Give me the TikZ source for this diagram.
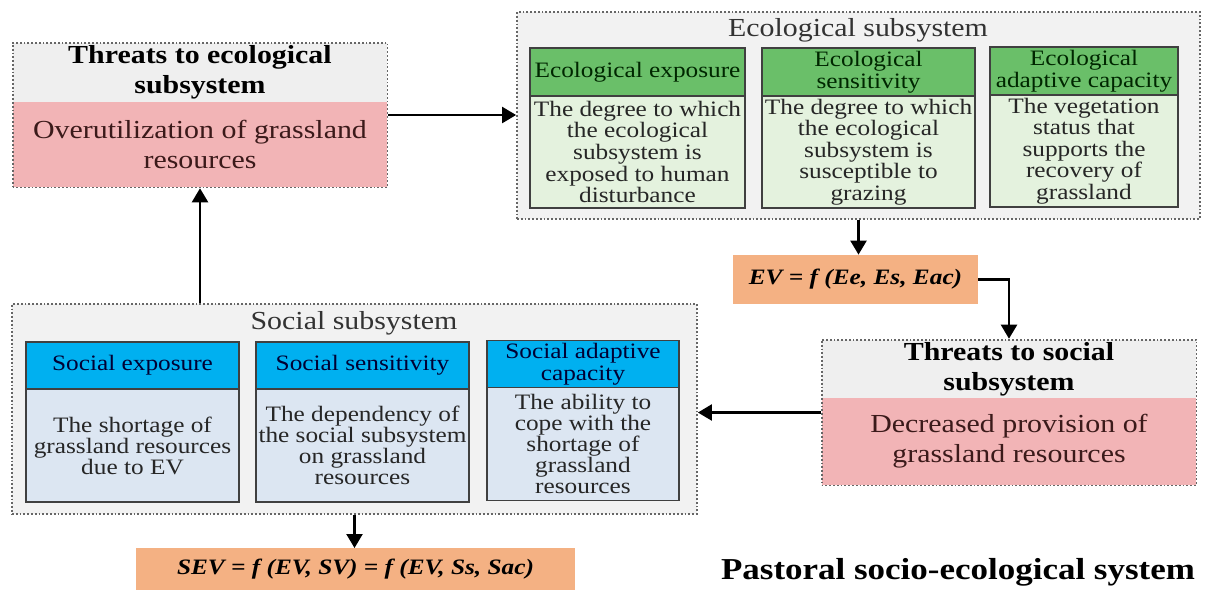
\documentclass[tikz,border=0pt]{standalone}
\usepackage{fontspec}
\setmainfont{Liberation Serif}[FakeStretch=1.15]
\usetikzlibrary{arrows.meta,fit}

\definecolor{framefill}{HTML}{F2F2F2}
\definecolor{topgray}{HTML}{EFEFEF}
\definecolor{threatpink}{HTML}{F2B4B6}
\definecolor{pinktext}{HTML}{3B1A1A}
\definecolor{ecogreen}{HTML}{6ABF69}
\definecolor{ecolight}{HTML}{E4F2DE}
\definecolor{socblue}{HTML}{00B0F0}
\definecolor{soclight}{HTML}{DCE6F2}
\definecolor{formorange}{HTML}{F4B183}

\tikzset{
  outerbox/.style={draw=black!60, densely dotted, line width=0.9pt, fill=framefill, inner sep=0pt},
  dotframe/.style={draw=black!60, densely dotted, line width=0.9pt, inner sep=0pt},
  subtitle/.style={font=\fontsize{13}{15}\selectfont, text=black!80},
  threattop/.style={fill=topgray, minimum width=187pt, inner sep=1pt, align=center,
    font=\bfseries\fontsize{13}{15}\selectfont},
  threatbot/.style={fill=threatpink, minimum width=187pt, inner sep=1pt, align=center,
    text=pinktext, font=\fontsize{13}{15}\selectfont},
  ecohead/.style={draw=black!75, line width=0.7pt, fill=ecogreen, minimum height=24pt,
    inner sep=0.5pt, align=center, text=black!85!green, font=\fontsize{11}{11}\selectfont},
  ecobody/.style={draw=black!75, line width=0.7pt, fill=ecolight, minimum height=56pt,
    inner sep=0.5pt, align=center, text=black!85, font=\fontsize{11}{10.8}\selectfont},
  sochead/.style={draw=black!75, line width=0.7pt, fill=socblue, minimum height=23.5pt,
    inner sep=0.5pt, align=center, text=black!80!blue, font=\fontsize{11}{11}\selectfont},
  socbody/.style={draw=black!75, line width=0.7pt, fill=soclight, minimum height=56.5pt,
    inner sep=0.5pt, align=center, text=black!85, font=\fontsize{11}{10.5}\selectfont},
  formula/.style={fill=formorange, inner sep=0pt, font=\bfseries\itshape\fontsize{11}{13}\selectfont},
  link/.style={->, line width=1.2pt}
}

\begin{document}
\begin{tikzpicture}[x=0.5pt, y=-0.5pt, >={Triangle[width=8pt,length=7pt]}]
    \useasboundingbox (0,0) rectangle (1210,590);

    % Threats to ecological subsystem
    \node[threattop, minimum height=29.5pt] (thrEcoT) at (200,72.5) {Threats to ecological\\subsystem};
    \node[threatbot, minimum height=42.5pt] (thrEcoB) at (200,144.5) {Overutilization of grassland\\resources};
    \node[dotframe, fit=(thrEcoT)(thrEcoB)] (thrEco) {};

    % Ecological subsystem
    \node[outerbox, minimum width=341.5pt, minimum height=103.5pt] (eco) at (858.5,115.5) {};
    \node[subtitle] (ecoTitle) at (858,30) {Ecological subsystem};
    \node[ecohead, minimum width=107.5pt] (eExpH) at (637.5,72) {Ecological exposure};
    \node[ecobody, minimum width=107.5pt] (eExpB) at (637.5,152)
        {The degree to which\\the ecological\\subsystem is\\exposed to human\\disturbance};
    \node[ecohead, minimum width=106.5pt] (eSenH) at (868.5,72) {Ecological\\sensitivity};
    \node[ecobody, minimum width=106.5pt] (eSenB) at (868.5,152)
        {The degree to which\\the ecological\\subsystem is\\susceptible to\\grazing};
    \node[ecohead, minimum width=94pt] (eAdaH) at (1084,71) {Ecological\\adaptive capacity};
    \node[ecobody, minimum width=94pt] (eAdaB) at (1084,151)
        {The vegetation\\status that\\supports the\\recovery of\\grassland};

    % Ecological vulnerability
    \node[formula, minimum width=122.5pt, minimum height=24.5pt] (ev) at (855.5,279.5)
        {EV = f (Ee, Es, Eac)};

    % Threats to social subsystem
    \node[threattop, minimum height=29pt] (thrSocT) at (1009,369) {Threats to social\\subsystem};
    \node[threatbot, minimum height=43.5pt] (thrSocB) at (1009,441.5) {Decreased provision of\\grassland resources};
    \node[dotframe, fit=(thrSocT)(thrSocB)] (thrSoc) {};

    % Social subsystem
    \node[outerbox, minimum width=342.5pt, minimum height=105pt] (soc) at (354.5,409) {};
    \node[subtitle] (socTitle) at (354,323) {Social subsystem};
    \node[sochead, minimum width=106.5pt] (sExpH) at (132.5,365.5) {Social exposure};
    \node[socbody, minimum width=106.5pt] (sExpB) at (132.5,445.5)
        {The shortage of\\grassland resources\\due to EV};
    \node[sochead, minimum width=106.5pt] (sSenH) at (362.5,365.5) {Social sensitivity};
    \node[socbody, minimum width=106.5pt] (sSenB) at (362.5,445.5)
        {The dependency of\\the social subsystem\\on grassland\\resources};
    \node[sochead, minimum width=96pt] (sAdaH) at (583,364) {Social adaptive\\capacity};
    \node[socbody, minimum width=96pt] (sAdaB) at (583,444)
        {The ability to\\cope with the\\shortage of\\grassland\\resources};

    % Socio-ecological vulnerability
    \node[formula, minimum width=219.5pt, minimum height=21pt, anchor=north] (sev) at (355.5,548)
        {SEV = f (EV, SV) = f (EV, Ss, Sac)};
    \node[font=\bfseries\fontsize{15.2}{18}\selectfont] (pses) at (958,572)
        {Pastoral socio-ecological system};

    % Connectors
    \draw[link] (thrEco.east) -- (thrEco.east -| eco.west);
    \draw[link] (eco.south) -- (eco.south |- ev.north);
    \draw[link] (ev.east) -| (thrSoc.north);
    \draw[link] (thrSoc.west) -- (thrSoc.west -| soc.east);
    \draw[link] (soc.north -| thrEco.south) -- (thrEco.south);
    \draw[link] (soc.south) -- (soc.south |- sev.north);
\end{tikzpicture}
\end{document}
